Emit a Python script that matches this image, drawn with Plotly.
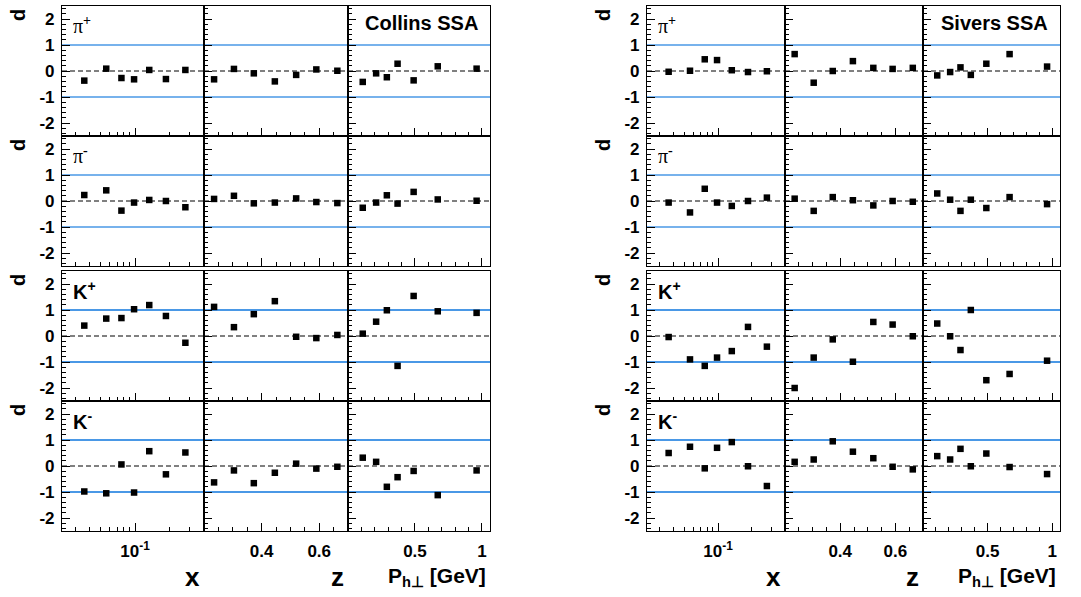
import math
import plotly.graph_objects as go

W, H = 1081, 597

# ---------------- data ----------------
x_bins = [0.036, 0.056, 0.076, 0.098, 0.133, 0.186, 0.275]
z_bins = [0.235, 0.304, 0.373, 0.446, 0.52, 0.59, 0.663]
pt_bins = [0.11, 0.21, 0.29, 0.37, 0.49, 0.67, 0.96]

hadron_labels = ["π<sup><b>+</b></sup>", "π<sup><b>-</b></sup>",
                 "<b>K</b><sup><b>+</b></sup>", "<b>K</b><sup><b>-</b></sup>"]
panel_titles = ["Collins SSA", "Sivers SSA"]
x_tick_vals = [0.1]
x_tick_text = ["10<sup>-1</sup>"]
z_tick_vals = [0.4, 0.6]
z_tick_text = ["0.4", "0.6"]
pt_tick_vals = [0.5, 1.0]
pt_tick_text = ["0.5", "1"]
d_tick_vals = [-2, -1, 0, 1, 2]
d_tick_text = ["-2", "-1", "0", "1", "2"]

# Collins SSA
collins_pip_x = [-0.37, 0.09, -0.27, -0.32, 0.04, -0.31, 0.04]
collins_pip_z = [-0.32, 0.08, -0.09, -0.40, -0.15, 0.06, 0.01]
collins_pip_pt = [-0.42, -0.09, -0.24, 0.28, -0.36, 0.18, 0.09]
collins_pim_x = [0.23, 0.41, -0.37, -0.06, 0.04, 0.00, -0.24]
collins_pim_z = [0.08, 0.20, -0.09, -0.06, 0.10, -0.04, -0.08]
collins_pim_pt = [-0.26, -0.06, 0.22, -0.10, 0.35, 0.06, 0.01]
collins_kp_x = [0.40, 0.67, 0.69, 1.03, 1.19, 0.77, -0.26]
collins_kp_z = [1.12, 0.34, 0.84, 1.34, -0.03, -0.08, 0.04]
collins_kp_pt = [0.09, 0.55, 0.99, -1.15, 1.54, 0.95, 0.89]
collins_km_x = [-0.98, -1.05, 0.06, -1.02, 0.57, -0.32, 0.52]
collins_km_z = [-0.63, -0.17, -0.66, -0.26, 0.09, -0.10, -0.03]
collins_km_pt = [0.32, 0.16, -0.80, -0.43, -0.19, -1.12, -0.17]

# Sivers SSA
sivers_pip_x = [-0.03, 0.01, 0.45, 0.42, 0.03, -0.04, -0.01]
sivers_pip_z = [0.65, -0.45, 0.00, 0.38, 0.12, 0.08, 0.12]
sivers_pip_pt = [-0.17, -0.04, 0.14, -0.15, 0.28, 0.65, 0.17]
sivers_pim_x = [-0.06, -0.44, 0.47, -0.06, -0.19, 0.00, 0.13]
sivers_pim_z = [0.09, -0.38, 0.15, 0.03, -0.17, 0.00, -0.03]
sivers_pim_pt = [0.29, 0.05, -0.38, 0.05, -0.27, 0.15, -0.12]
sivers_kp_x = [-0.04, -0.90, -1.15, -0.83, -0.58, 0.35, -0.41]
sivers_kp_z = [-2.00, -0.83, -0.13, -0.99, 0.54, 0.44, -0.01]
sivers_kp_pt = [0.48, -0.01, -0.54, 1.00, -1.70, -1.46, -0.95]
sivers_km_x = [0.50, 0.74, -0.09, 0.70, 0.92, -0.01, -0.77]
sivers_km_z = [0.16, 0.25, 0.95, 0.55, 0.30, -0.03, -0.13]
sivers_km_pt = [0.38, 0.25, 0.66, -0.01, 0.48, -0.04, -0.31]

panels = [
    [[collins_pip_x, collins_pip_z, collins_pip_pt],
     [collins_pim_x, collins_pim_z, collins_pim_pt],
     [collins_kp_x, collins_kp_z, collins_kp_pt],
     [collins_km_x, collins_km_z, collins_km_pt]],
    [[sivers_pip_x, sivers_pip_z, sivers_pip_pt],
     [sivers_pim_x, sivers_pim_z, sivers_pim_pt],
     [sivers_kp_x, sivers_kp_z, sivers_kp_pt],
     [sivers_km_x, sivers_km_z, sivers_km_pt]],
]
col_x = [x_bins, z_bins, pt_bins]

# ---------------- layout geometry (pixels) ----------------
col_px = [[62, 204, 348, 490], [647, 785, 923, 1060]]
row_px = [(6, 136), (136, 266), (271, 401), (401, 531)]

FONT = "Liberation Sans"
tickfont = dict(family=FONT, size=17, color="black", weight="bold")

fig = go.Figure()
layout = dict(
    width=W, height=H,
    margin=dict(l=0, r=0, t=0, b=0),
    paper_bgcolor="white", plot_bgcolor="rgba(0,0,0,0)",
    showlegend=False,
)
shapes = []
annotations = []


def px_x(p):
    return p / W


def px_y(p):
    return 1 - p / H


x_minor = [0.03, 0.04, 0.05, 0.06, 0.07, 0.08, 0.09, 0.2, 0.3]
z_minor = [0.25, 0.3, 0.35, 0.45, 0.5, 0.55, 0.65]
pt_minor = [0.1, 0.2, 0.3, 0.4, 0.6, 0.7, 0.8, 0.9]
d_minor = [v / 10 for v in range(-24, 25, 2) if v % 10 != 0]

k = 0
for p in range(2):
    for r in range(4):
        for c in range(3):
            k += 1
            suffix = "" if k == 1 else str(k)
            xs = "x" + suffix
            ys = "y" + suffix
            xkey = "xaxis" + suffix
            ykey = "yaxis" + suffix
            x0, x1 = col_px[p][c], col_px[p][c + 1]
            yt, yb = row_px[r]
            common = dict(showline=True, mirror=True, linecolor="black", linewidth=1.1,
                          showgrid=False, zeroline=False, ticks="inside",
                          tickcolor="black", tickwidth=1, tickfont=tickfont)
            if c == 0:
                xa = dict(type="log", range=[math.log10(0.023), math.log10(0.4)],
                          tickvals=x_tick_vals, ticktext=x_tick_text,
                          minor=dict(tickvals=x_minor, ticks="inside", ticklen=4,
                                     tickcolor="black", tickwidth=1))
            elif c == 1:
                xa = dict(range=[0.2, 0.7], tickvals=z_tick_vals, ticktext=z_tick_text,
                          minor=dict(tickvals=z_minor, ticks="inside", ticklen=4,
                                     tickcolor="black", tickwidth=1))
            else:
                xa = dict(range=[0, 1.06], tickvals=pt_tick_vals, ticktext=pt_tick_text,
                          minor=dict(tickvals=pt_minor, ticks="inside", ticklen=4,
                                     tickcolor="black", tickwidth=1))
            xa.update(common)
            xa.update(domain=[px_x(x0), px_x(x1)], anchor=ys, ticklen=8,
                      showticklabels=(r == 3), ticklabelstandoff=5)
            ya = dict(range=[-2.5, 2.5], tickvals=d_tick_vals, ticktext=d_tick_text,
                      minor=dict(tickvals=d_minor, ticks="inside", ticklen=4,
                                 tickcolor="black", tickwidth=1))
            ya.update(common)
            ya.update(domain=[px_y(yb), px_y(yt)], anchor=xs, ticklen=8,
                      showticklabels=(c == 0), ticklabelstandoff=3)
            layout[xkey] = xa
            layout[ykey] = ya

            blue_w = 1.5 if r < 2 else 2
            for lv in (1, -1):
                shapes.append(dict(type="line", xref=f"{xs} domain", yref=ys,
                                   x0=0, x1=1, y0=lv, y1=lv, layer="below",
                                   line=dict(color="#4a98e6", width=blue_w)))
            shapes.append(dict(type="line", xref=f"{xs} domain", yref=ys,
                               x0=0, x1=1, y0=0, y1=0, layer="below",
                               line=dict(color="black", width=1, dash="5px,3px")))

            fig.add_trace(go.Scatter(
                x=col_x[c], y=panels[p][r][c], xaxis=xs, yaxis=ys,
                mode="markers",
                marker=dict(symbol="square", size=6.5, color="black"),
                showlegend=False, hoverinfo="skip"))

        # hadron label
        yt, yb = row_px[r]
        lab = hadron_labels[r]
        annotations.append(dict(
            text=lab, xref="paper", yref="paper",
            x=px_x(col_px[p][0] + 9), y=px_y(yt + 19),
            xanchor="left", yanchor="middle", showarrow=False,
            font=dict(family="Liberation Serif" if r < 2 else FONT, size=20, color="black")))
        # y title "d"
        annotations.append(dict(
            text="<b>d</b>", xref="paper", yref="paper",
            x=px_x(col_px[p][0] - 44), y=px_y(yt + 9),
            xanchor="center", yanchor="middle", showarrow=False, textangle=-90,
            font=dict(family=FONT, size=20, color="black")))

    # panel title
    annotations.append(dict(
        text=f"<b>{panel_titles[p]}</b>", xref="paper", yref="paper",
        x=px_x(col_px[p][3] - 10), y=px_y(23),
        xanchor="right", yanchor="middle", showarrow=False,
        font=dict(family=FONT, size=20, color="black")))
    # axis titles
    for c, (t, fs) in enumerate([("<b>x</b>", 26), ("<b>z</b>", 26),
                                 ("<b>P<sub>h⊥</sub> [GeV]</b>", 21)]):
        annotations.append(dict(
            text=t, xref="paper", yref="paper",
            x=px_x(col_px[p][c + 1] - 2), y=px_y(577),
            xanchor="right", yanchor="middle", showarrow=False,
            font=dict(family=FONT, size=fs, color="black")))

layout["shapes"] = shapes
layout["annotations"] = annotations
fig.update_layout(**layout)
fig.write_html("out.html")
